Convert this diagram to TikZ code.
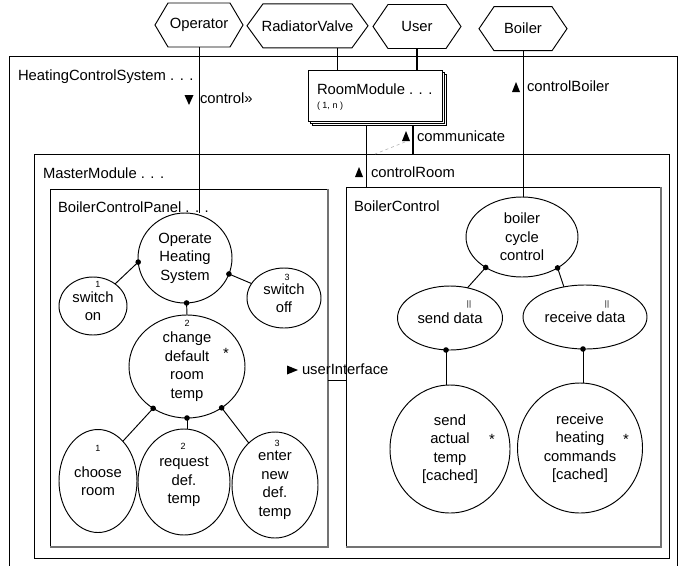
\documentclass[tikz,border=0pt]{standalone}
\usepackage{fontspec}
\setmainfont{Liberation Sans}
\usetikzlibrary{shapes.geometric}

% hexagonal actor outline around a rectangular node: #1 node name, #2 point depth
\newcommand\hexoutline[2]{%
  \draw ([xshift=#2]#1.north west) -- ([xshift=-#2]#1.north east) -- (#1.east)
        -- ([xshift=-#2]#1.south east) -- ([xshift=#2]#1.south west) -- (#1.west) -- cycle;}

\begin{document}
\begin{tikzpicture}[x=1pt,y=-1pt,line width=0.95pt,
  every node/.style={inner sep=0pt,outer sep=0pt},
  txt/.style={font=\fontsize{14.8}{18.5}\selectfont},
  tinytxt/.style={font=\fontsize{9}{9}\selectfont},
  marktxt/.style={font=\fontsize{8}{8}\selectfont},
  usecase/.style={ellipse,draw,txt,align=center},
  frame/.style={draw,rectangle},
  actor/.style={rectangle,txt,minimum height=44pt},
  link/.style={line width=0.95pt},
  heavylink/.style={line width=1.8pt},
  edgeshade/.style={draw=black!55,line width=1.5pt},
  flowmark/.style={fill=black}]
\useasboundingbox (0,0) rectangle (679,565);

% ---- actors ----
\node[actor,minimum width=88pt] (op) at (199,25) {Operator};
\node[actor,minimum width=121pt] (rv) at (307.5,25.8) {RadiatorValve};
\node[actor,minimum width=88pt] (user) at (417,26.5) {User};
\node[actor,minimum width=88pt] (boiler) at (523,28.7) {Boiler};
\hexoutline{op}{13pt}
\hexoutline{rv}{16pt}
\hexoutline{user}{15pt}
\hexoutline{boiler}{15pt}

% ---- system frame (open below) ----
\draw (9,570) -- (9,56) -- (677,56) -- (677,570);
\node[txt,anchor=base west] (hcs) at (18,80) {HeatingControlSystem . . .};

% ---- room module (multiple instances) ----
\node[frame,fill=white,minimum width=134pt,minimum height=51pt] (rm3) at (379,99.5) {};
\node[frame,fill=white,minimum width=134pt,minimum height=51pt] (rm2) at (377,97.5) {};
\node[frame,fill=white,minimum width=134pt,minimum height=51pt] (rm) at (375,95.5) {};
\node[txt,anchor=base west] (rmname) at (317,94) {RoomModule . . .};
\node[tinytxt,anchor=base west] (rmmult) at (317,108) {( 1, n )};

% ---- master module and its parts ----
\node[frame,minimum width=635pt,minimum height=404pt] (mm) at (351.5,356) {};
\node[txt,anchor=base west] (mmname) at (43,178) {MasterModule . . .};

\node[frame,minimum width=278pt,minimum height=358pt] (bcp) at (189,368) {};
\draw[edgeshade] (bcp.north east) -- (bcp.south east) -- (bcp.south west);
\node[txt,anchor=base west] (bcpname) at (58,212) {BoilerControlPanel . . .};

\node[frame,minimum width=315pt,minimum height=360pt] (bc) at (503.5,367) {};
\draw[edgeshade] (bc.north east) -- (bc.south east) -- (bc.south west);
\node[txt,anchor=base west] (bcname) at (354,211) {BoilerControl};

% ---- use cases: boiler control panel ----
\node[usecase,minimum width=94pt,minimum height=90pt] (ohs) at (185,258) {Operate\\Heating\\System};
\node[usecase,minimum width=68pt,minimum height=58pt] (son) at (93,306) {switch\\on};
\node[usecase,minimum width=74pt,minimum height=60pt] (soff) at (284,298) {switch\\off};
\node[usecase,minimum width=116pt,minimum height=103pt] (cdrt) at (187,366.5) {change\\default\\room\\temp};
\node[usecase,minimum width=78pt,minimum height=103pt] (chr) at (98,481) {choose\\room};
\node[usecase,minimum width=92pt,minimum height=106pt] (rdt) at (184,482) {request\\def.\\temp};
\node[usecase,minimum width=86pt,minimum height=106pt] (endt) at (275,485) {enter\\new\\def.\\temp};

\node[tinytxt] (n1a) at (98,284) {1};
\node[tinytxt] (n3a) at (287,277) {3};
\node[tinytxt] (n2a) at (187,323) {2};
\node[tinytxt] (n1b) at (98,448) {1};
\node[tinytxt] (n2b) at (183,446) {2};
\node[tinytxt] (n3b) at (277,443) {3};
\node[txt] (st1) at (226,353) {*};

% ---- use cases: boiler control ----
\node[usecase,minimum width=112pt,minimum height=80pt] (bcc) at (522,237) {boiler\\cycle\\control};
\node[usecase,minimum width=105pt,minimum height=64pt] (sd) at (450,318) {send data};
\node[usecase,minimum width=124pt,minimum height=64pt] (rd) at (585,317) {receive data};
\node[usecase,minimum width=120pt,minimum height=128pt] (sat) at (450,449) {send\\actual\\temp\\{[cached]}};
\node[usecase,minimum width=125pt,minimum height=130pt] (rhc) at (580,448) {receive\\heating\\commands\\{[cached]}};

\node[marktxt] (par1) at (469,304) {||};
\node[marktxt] (par2) at (607,304) {||};
\node[txt] (st2) at (492,439) {*};
\node[txt] (st3) at (626,439) {*};

% ---- actor connections ----
\draw[link] (op.south) -- (op.south |- ohs.north);
\draw[heavylink] ([xshift=30pt]rv.south) -- ([xshift=30pt]rv.south |- rm.north);
\draw[heavylink] (user.south) -- (user.south |- rm.north);
\draw[link] (boiler.south) -- (boiler.south |- bcc.north);

% ---- room module connections ----
\draw[link] ([xshift=-13pt]rm3.south) -- ([xshift=-13pt]rm3.south |- bc.north);
\draw[line width=1.3pt] ([xshift=34pt]rm3.south) -- ([xshift=34pt]rm3.south |- mm.north);
\coordinate (cmfrom) at (405,142);
\coordinate (cmto) at (375,154);
\draw[gray!60,dashed,line width=0.6pt] (cmfrom) -- (cmto);

% ---- interface between panel and control ----
\coordinate (uiy) at (0,380);
\draw[link] (bcp.east |- uiy) -- (bc.west |- uiy);

% ---- decomposition links with joint dots ----
\draw[link] (ohs.185) -- (son.45);
\draw[link] (ohs.340) -- (soff.156);
\draw[link] (ohs.272) -- (cdrt.north);
\fill (ohs.185) circle (2.8pt);
\fill (ohs.340) circle (2.8pt);
\fill (ohs.272) circle (2.8pt);

\draw[link] (cdrt.231) -- (chr.58);
\draw[link] (cdrt.270) -- (rdt.north -| cdrt.270);
\draw[link] (cdrt.310) -- (endt.122);
\fill (cdrt.231) circle (2.8pt);
\fill (cdrt.270) circle (2.8pt);
\fill (cdrt.310) circle (2.8pt);

\draw[link] (bcc.220) -- (sd.60);
\draw[link] (bcc.319) -- (rd.125);
\fill (bcc.220) circle (2.8pt);
\fill (bcc.319) circle (2.8pt);

\draw[link] ([xshift=-4pt]sd.south) -- ([xshift=-4pt]sd.south |- sat.north);
\draw[link] ([xshift=-2pt]rd.south) -- ([xshift=-2pt]rd.south |- rhc.north);
\fill ([xshift=-4pt]sd.south) circle (2.8pt);
\fill ([xshift=-2pt]rd.south) circle (2.8pt);

% ---- flow labels ----
\fill[flowmark] (184.5,95) -- (193.5,95) -- (189,105) -- cycle;
\node[txt,anchor=base west] (lctl) at (200,103) {control»};
\fill[flowmark] (512,92) -- (520,92) -- (516,82) -- cycle;
\node[txt,anchor=base west] (lcb) at (527,91) {controlBoiler};
\fill[flowmark] (402,141) -- (410,141) -- (406,131) -- cycle;
\node[txt,anchor=base west] (lcom) at (417,141) {communicate};
\fill[flowmark] (355,177) -- (363,177) -- (359,167) -- cycle;
\node[txt,anchor=base west] (lcr) at (371,177) {controlRoom};
\fill[flowmark] (287,365.5) -- (287,374.5) -- (298,370) -- cycle;
\node[txt,anchor=base west] (lui) at (302,374) {userInterface};
\end{tikzpicture}
\end{document}
